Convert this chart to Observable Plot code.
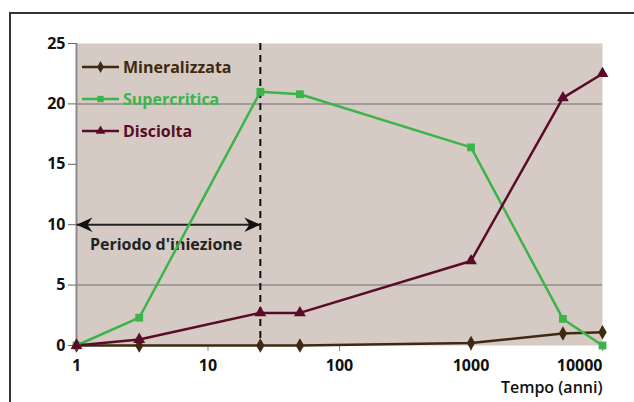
<!DOCTYPE html>
<html>
<head>
<meta charset="utf-8">
<script src="https://cdn.jsdelivr.net/npm/d3@7"></script>
<script src="https://cdn.jsdelivr.net/npm/@observablehq/plot@0.6"></script>
<style>
  html, body { margin: 0; padding: 0; background: #fff; }
  #wrap { position: relative; width: 634px; height: 402px; overflow: hidden; font-family: "Open Sans", sans-serif; }
  #border { position: absolute; left: 9px; top: 12px; right: -4px; bottom: -4px; border-top: 2px solid #333; border-left: 2px solid #333; }
  #legend { position: absolute; left: 0; top: 0; }
</style>
</head>
<body>
<div id="wrap"><div id="border"></div></div>
<script>
// ---- data ----
const years = [1, 3, 25, 50, 1000, 5000, 10000];
const mineralizzata = [0, 0, 0, 0, 0.2, 1.0, 1.1];
const supercritica = [0, 2.3, 21.0, 20.8, 16.4, 2.2, 0];
const disciolta = [0, 0.5, 2.7, 2.7, 7.0, 20.5, 22.5];
const seriesNames = ["Mineralizzata", "Supercritica", "Disciolta"];
const seriesColors = ["#3e2a10", "#3bb54a", "#5a0b28"];
const seriesSymbols = ["diamond", "square", "triangle"];
const xTicks = [1, 10, 100, 1000, 10000];
const yTicks = [0, 5, 10, 15, 20, 25];
const gridValues = [5, 20];
const injectionEnd = 25;
const arrowY = 10;
const annotation = [{x: 4.8, y: 8.3, text: "Periodo d'iniezione"}];
const xTitle = "Tempo (anni)";

const seriesValues = [mineralizzata, supercritica, disciolta];
const rows = [];
seriesNames.forEach((name, i) => {
  years.forEach((yr, j) => rows.push({series: name, year: yr, value: seriesValues[i][j]}));
});

// filled notched arrowhead, tip at origin pointing right
const arrowHead = {
  draw(ctx, size) {
    const s = 2 * Math.sqrt(size / Math.PI);
    ctx.moveTo(0, 0);
    ctx.lineTo(-s, -s * 0.45);
    ctx.lineTo(-s * 0.68, 0);
    ctx.lineTo(-s, s * 0.45);
    ctx.closePath();
  }
};

const FONT = "Open Sans, sans-serif";
const lastTick = xTicks[xTicks.length - 1];

const chart = Plot.plot({
  width: 634,
  height: 402,
  marginLeft: 76,
  marginRight: 32,
  marginTop: 43,
  marginBottom: 57,
  style: {fontFamily: FONT, background: "transparent", overflow: "visible"},
  x: {type: "log", domain: [1, 10000]},
  y: {domain: [0, 25]},
  color: {domain: seriesNames, range: seriesColors},
  symbol: {domain: seriesNames, range: seriesSymbols},
  marks: [
    Plot.frame({fill: "#d5cac4", stroke: null}),
    Plot.ruleY(gridValues, {y: d => d, stroke: "#8c8c8c", strokeWidth: 1.5}),
    Plot.ruleX([1], {stroke: "#8c8c8c", strokeWidth: 2}),
    Plot.axisY({ticks: yTicks, tickSize: 8, tickPadding: 3, stroke: "#666", fontSize: 16, fontWeight: "bold", fill: "#111", label: null}),
    Plot.axisX({ticks: xTicks, tickSize: 6, stroke: "#888", text: null, label: null}),
    Plot.text(xTicks.filter(d => d !== lastTick), {x: d => d, frameAnchor: "bottom", dy: 25, text: d => String(d), fontSize: 16, fontWeight: "bold", fill: "#111"}),
    Plot.text([lastTick], {x: d => d, frameAnchor: "bottom", dy: 25, text: d => String(d), textAnchor: "end", fontSize: 16, fontWeight: "bold", fill: "#111"}),
    Plot.text([xTitle], {frameAnchor: "bottom-right", dy: 47, text: d => d, textAnchor: "end", fontSize: 16, fontWeight: 600, fill: "#111"}),
    Plot.ruleX([injectionEnd], {stroke: "#111", strokeWidth: 2, strokeDasharray: "7,5"}),
    Plot.link([{x1: 1, x2: injectionEnd, y: arrowY}], {x1: "x1", x2: "x2", y1: "y", y2: "y", stroke: "#222", strokeWidth: 2}),
    Plot.dot([{x: injectionEnd, y: arrowY}], {x: "x", y: "y", symbol: () => arrowHead, r: 8, fill: "#111", stroke: null}),
    Plot.dot([{x: 1, y: arrowY}], {x: "x", y: "y", symbol: () => arrowHead, r: 8, fill: "#111", stroke: null, rotate: 180}),
    Plot.text(annotation, {x: "x", y: "y", text: "text", fontSize: 16, fontWeight: "bold", fill: "#222"}),
    Plot.line(rows, {x: "year", y: "value", z: "series", stroke: "series", strokeWidth: 2.5}),
    Plot.dot(rows, {x: "year", y: "value", fill: "series", symbol: "series", r: 4.4, stroke: null})
  ]
});
document.getElementById("wrap").appendChild(chart);
chart.style.position = "absolute";
chart.style.left = "0px";
chart.style.top = "0px";

// legend overlay
const leg = d3.select("#wrap").append("svg").attr("id", "legend").attr("width", 634).attr("height", 402);
seriesNames.forEach((name, i) => {
  const g = leg.append("g").attr("transform", `translate(82, ${67 + i * 32})`);
  g.append("line").attr("x1", 0).attr("x2", 37).attr("y1", 0).attr("y2", 0)
    .attr("stroke", seriesColors[i]).attr("stroke-width", 2.5);
  g.append("path").attr("transform", "translate(18.5,0)")
    .attr("d", d3.symbol(d3["symbol" + seriesSymbols[i][0].toUpperCase() + seriesSymbols[i].slice(1)], 40)())
    .attr("fill", seriesColors[i]);
  g.append("text").attr("x", 41).attr("y", 0).attr("dy", "0.35em")
    .attr("font-family", FONT).attr("font-size", 16).attr("font-weight", "bold")
    .attr("fill", seriesColors[i]).text(name);
});
</script>
</body>
</html>
